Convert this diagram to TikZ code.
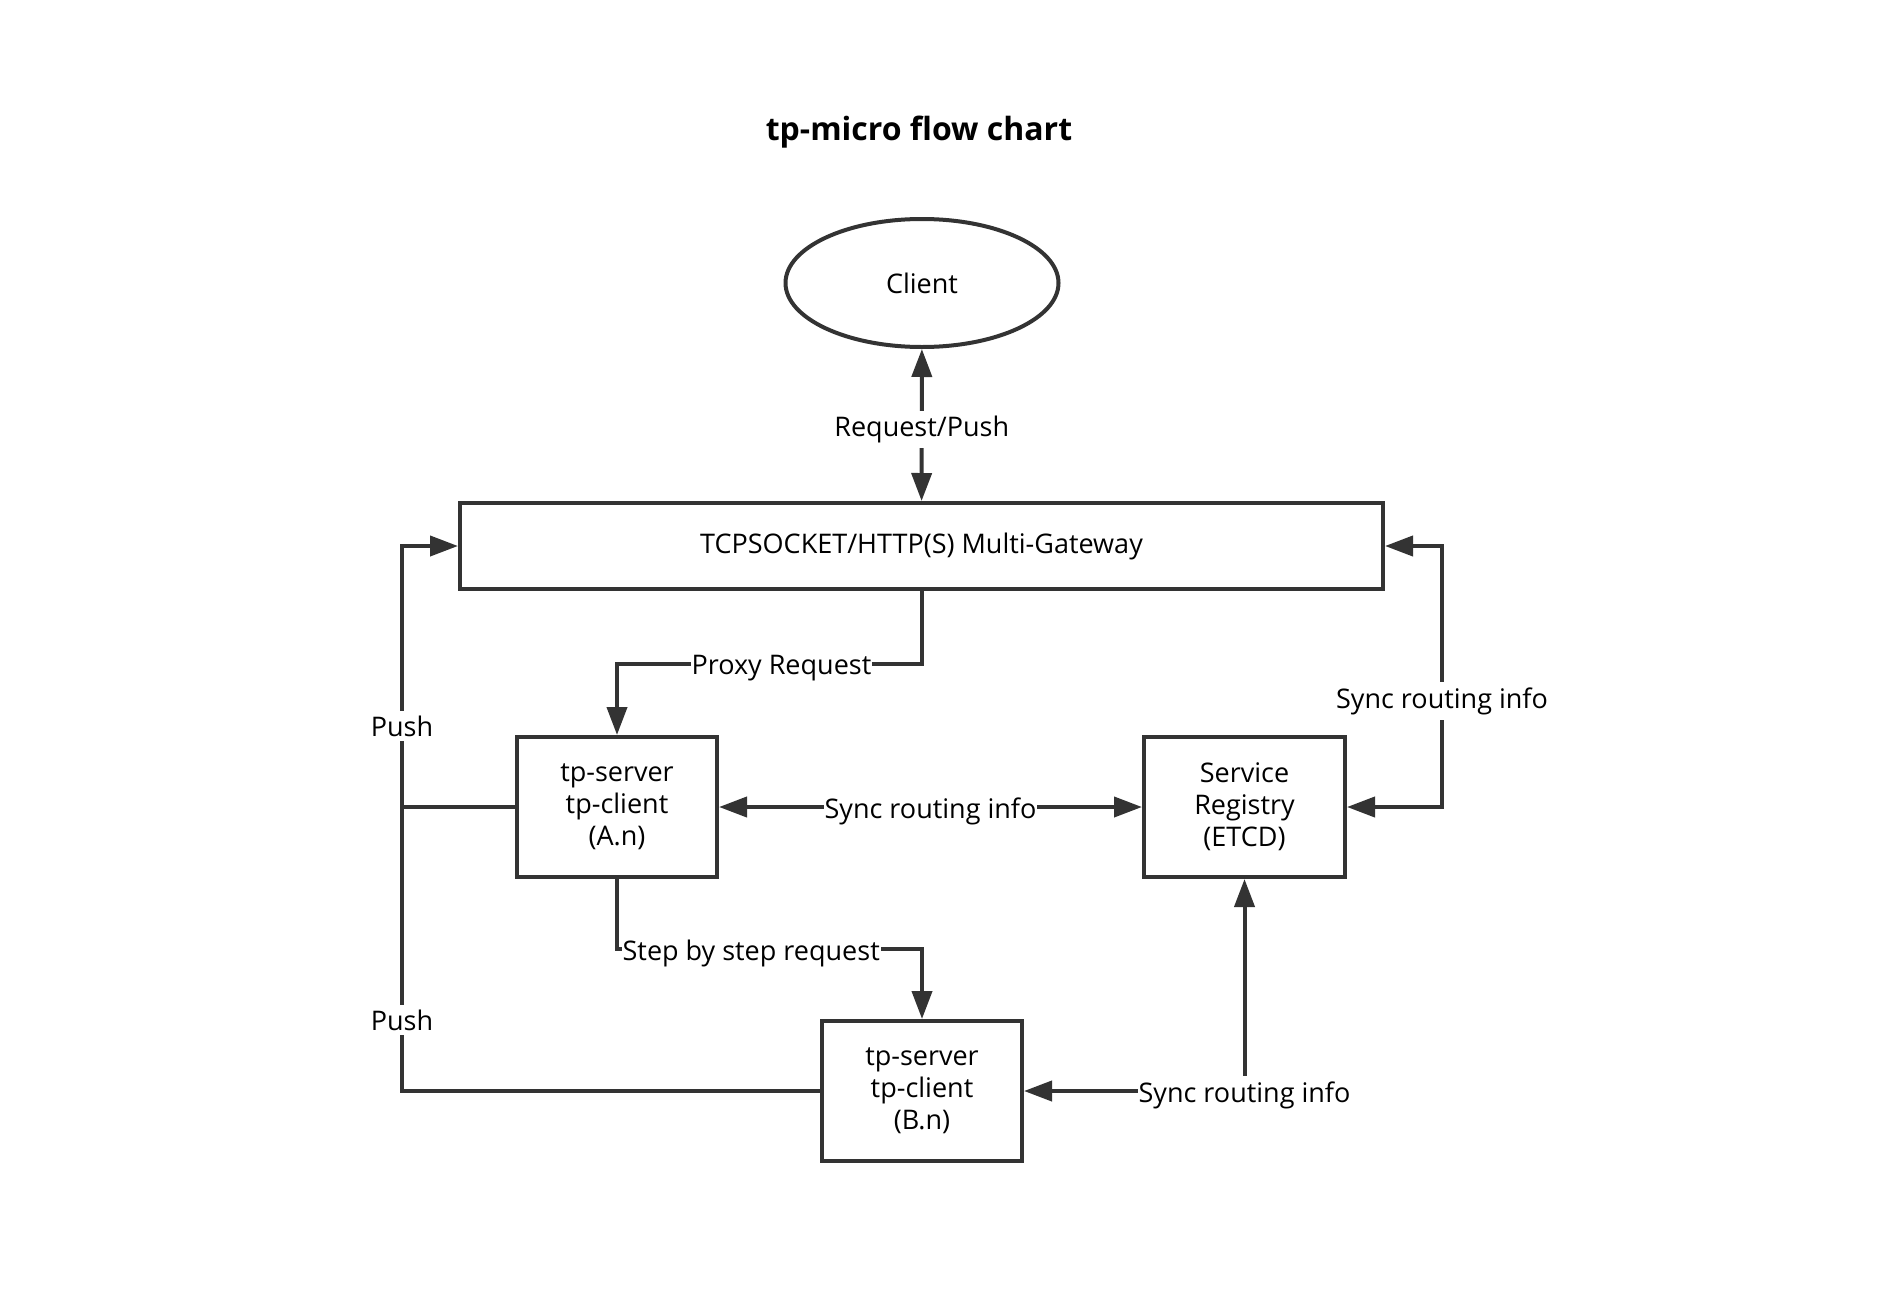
\documentclass[tikz,border=0pt]{standalone}
\usepackage{fontspec}
\setmainfont{Open Sans}
\usetikzlibrary{arrows.meta,shapes.geometric}
\definecolor{linegray}{HTML}{333333}
\tikzset{
	flowline/.style={line width=4pt, color=linegray, -},
	flowarrow/.style={flowline, -{Triangle[length=28pt,width=20pt]}},
	flowboth/.style={flowline, {Triangle[length=28pt,width=20pt]}-{Triangle[length=28pt,width=20pt]}},
	boxnode/.style={draw=linegray, line width=4pt, rectangle, align=center, text=black, font=\fontsize{27}{32}\selectfont},
	flowlabel/.style={fill=white, text=black, inner xsep=1pt, inner ysep=5pt, yshift=-4pt, font=\fontsize{27}{32}\selectfont}
}

\begin{document}
\begin{tikzpicture}[x=1pt, y=-1pt]
			%%%%% START %%%%%
			
			\useasboundingbox (0, 0) rectangle (1884, 1290);
			
			\node[font=\bfseries\fontsize{32}{38}\selectfont] (title) at (919, 132) {tp-micro flow chart};
			
			\node[boxnode, ellipse, minimum width=273pt, minimum height=128pt] (client) at (922, 283) {Client};
			\node[boxnode, minimum width=923pt, minimum height=86pt] (gw) at (921.5, 546) {TCPSOCKET/HTTP(S) Multi-Gateway};
			
			\node[boxnode, minimum width=200pt, minimum height=140pt] (srvA) at (617, 807) {tp-server\\tp-client\\(A.n)};
			\node[boxnode, minimum width=201pt, minimum height=140pt] (reg) at (1244.5, 807) {Service\\Registry\\(ETCD)};
			\node[boxnode, minimum width=200pt, minimum height=140pt] (srvB) at (922, 1091) {tp-server\\tp-client\\(B.n)};
			
			\coordinate (rbend) at (1442, 697);
			\coordinate (pushhigh) at (402, 722);
			\coordinate (pushlow) at (402, 1016);
			
			\draw[flowboth] (client) -- node[flowlabel] {Request/Push} (gw);
			
			\draw[flowarrow] (gw.south) -- (gw.south |- 0, 664) -| node[flowlabel, pos=0.23] {Proxy Request} (srvA.north);
			\draw[flowboth] (srvA) -- node[flowlabel] {Sync routing info} (reg);
			\draw[flowarrow] (srvA.south) -- (srvA.south |- 0, 949) -| node[flowlabel, pos=0.22] {Step by step request} (srvB.north);
			
			\draw[flowboth] (reg.south) |- node[flowlabel] {Sync routing info} (srvB.east);
			\draw[flowboth] (gw.east) -| (rbend) node[flowlabel] {Sync routing info} |- (reg.east);
			
			\draw[flowarrow] (srvB.west) -| (pushlow) node[flowlabel] {Push} -- (pushhigh) node[flowlabel] {Push} |- (gw.west);
			\draw[flowline] (srvA.west) -- (srvA.west -| pushhigh);
			
			%%%%% END %%%%%
		\end{tikzpicture}
\end{document}
